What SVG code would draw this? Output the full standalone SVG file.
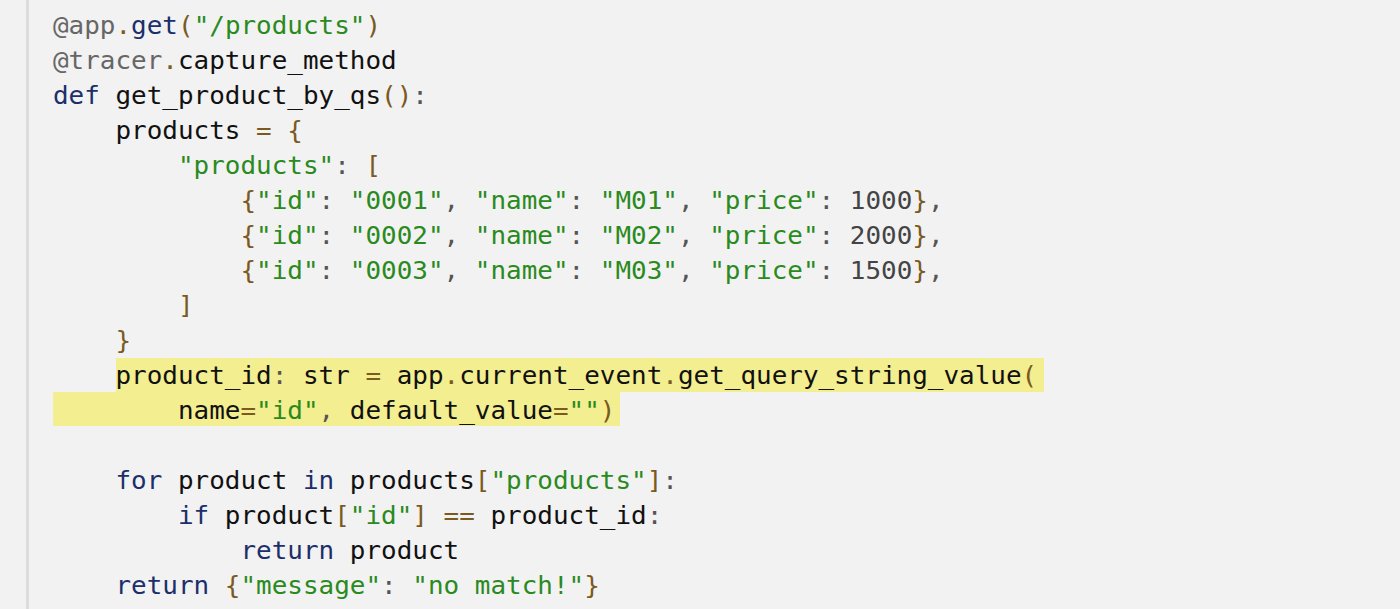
<svg xmlns="http://www.w3.org/2000/svg" width="1400" height="609" viewBox="0 0 1400 609">
<style>
text{font-family:"DejaVu Sans Mono","Liberation Mono",monospace;font-size:25px;fill:#111;white-space:pre}
.g{fill:#666}.k{fill:#1b2f6b}.s{fill:#2a8a1e}.p{fill:#7a5a1e}.n{fill:#444}.c{fill:#555}
</style>
<rect width="1400" height="609" fill="#f2f2f2"/>
<rect x="26" y="0" width="3" height="609" fill="#dcdcdc"/>
<g id="highlight">
<rect x="116" y="358" width="928" height="34" fill="#f3ee8f"/>
<rect x="53" y="392" width="567" height="34" fill="#f3ee8f"/>
</g>
<g id="code" transform="translate(53,0) scale(1.0386,1) translate(-53,0)">
<text x="53" y="34"><tspan class="g">@app</tspan><tspan class="p">.</tspan><tspan class="k">get</tspan><tspan class="p">(</tspan><tspan class="s">"/products"</tspan><tspan class="p">)</tspan></text>
<text x="53" y="69"><tspan class="g">@tracer</tspan><tspan class="p">.</tspan>capture_method</text>
<text x="53" y="104"><tspan class="k">def</tspan> get_product_by_qs<tspan class="p">()</tspan><tspan class="c">:</tspan></text>
<text x="53" y="139">    products <tspan class="p">= {</tspan></text>
<text x="53" y="174">        <tspan class="s">"products"</tspan><tspan class="c">: </tspan><tspan class="p">[</tspan></text>
<text x="53" y="209">            <tspan class="p">{</tspan><tspan class="s">"id"</tspan><tspan class="c">: </tspan><tspan class="s">"0001"</tspan><tspan class="c">, </tspan><tspan class="s">"name"</tspan><tspan class="c">: </tspan><tspan class="s">"M01"</tspan><tspan class="c">, </tspan><tspan class="s">"price"</tspan><tspan class="c">: </tspan><tspan class="n">1000</tspan><tspan class="p">}</tspan><tspan class="c">,</tspan></text>
<text x="53" y="244">            <tspan class="p">{</tspan><tspan class="s">"id"</tspan><tspan class="c">: </tspan><tspan class="s">"0002"</tspan><tspan class="c">, </tspan><tspan class="s">"name"</tspan><tspan class="c">: </tspan><tspan class="s">"M02"</tspan><tspan class="c">, </tspan><tspan class="s">"price"</tspan><tspan class="c">: </tspan><tspan class="n">2000</tspan><tspan class="p">}</tspan><tspan class="c">,</tspan></text>
<text x="53" y="279">            <tspan class="p">{</tspan><tspan class="s">"id"</tspan><tspan class="c">: </tspan><tspan class="s">"0003"</tspan><tspan class="c">, </tspan><tspan class="s">"name"</tspan><tspan class="c">: </tspan><tspan class="s">"M03"</tspan><tspan class="c">, </tspan><tspan class="s">"price"</tspan><tspan class="c">: </tspan><tspan class="n">1500</tspan><tspan class="p">}</tspan><tspan class="c">,</tspan></text>
<text x="53" y="314">        <tspan class="p">]</tspan></text>
<text x="53" y="349">    <tspan class="p">}</tspan></text>
<text x="53" y="384">    product_id<tspan class="c">: </tspan>str <tspan class="p">=</tspan> app<tspan class="p">.</tspan>current_event<tspan class="p">.</tspan>get_query_string_value<tspan class="p">(</tspan></text>
<text x="53" y="419">        name<tspan class="p">=</tspan><tspan class="s">"id"</tspan><tspan class="c">, </tspan>default_value<tspan class="p">=</tspan><tspan class="s">""</tspan><tspan class="p">)</tspan></text>
<text x="53" y="489">    <tspan class="k">for</tspan> product <tspan class="k">in</tspan> products<tspan class="p">[</tspan><tspan class="s">"products"</tspan><tspan class="p">]</tspan><tspan class="c">:</tspan></text>
<text x="53" y="524">        <tspan class="k">if</tspan> product<tspan class="p">[</tspan><tspan class="s">"id"</tspan><tspan class="p">]</tspan> <tspan class="p">==</tspan> product_id<tspan class="c">:</tspan></text>
<text x="53" y="559">            <tspan class="k">return</tspan> product</text>
<text x="53" y="594">    <tspan class="k">return</tspan> <tspan class="p">{</tspan><tspan class="s">"message"</tspan><tspan class="c">: </tspan><tspan class="s">"no match!"</tspan><tspan class="p">}</tspan></text>
</g>
</svg>
